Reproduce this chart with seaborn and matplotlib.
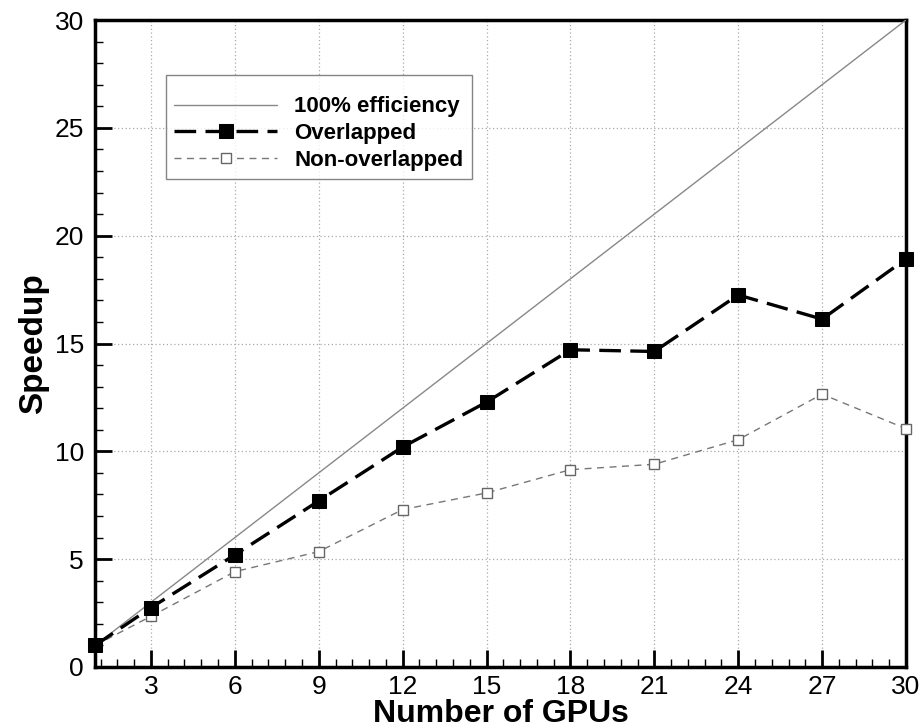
import matplotlib
matplotlib.use("Agg")
import matplotlib.pyplot as plt
import seaborn as sns
import pandas as pd
import numpy as np
from matplotlib.ticker import FixedLocator

gpus = [1, 3, 6, 9, 12, 15, 18, 21, 24, 27, 30]
ideal = [1, 3, 6, 9, 12, 15, 18, 21, 24, 27, 30]
overlapped = [1.0, 2.75, 5.2, 7.7, 10.2, 12.28, 14.71, 14.63, 17.25, 16.13, 18.92]
non_overlapped = [1.0, 2.35, 4.42, 5.35, 7.3, 8.07, 9.15, 9.4, 10.54, 12.65, 11.05]
x_ticks = [3, 6, 9, 12, 15, 18, 21, 24, 27, 30]
y_ticks = [0, 5, 10, 15, 20, 25, 30]

sns.set_style("white")
plt.rcParams['font.family'] = ['Liberation Sans', 'DejaVu Sans']
plt.rcParams['text.color'] = 'black'
plt.rcParams['axes.labelcolor'] = 'black'
plt.rcParams['xtick.color'] = 'black'
plt.rcParams['ytick.color'] = 'black'

fig = plt.figure(figsize=(9.21, 7.28), dpi=100)
ax = fig.add_axes([95/921, (728-667)/728, (906-95)/921, (667-20)/728])

df = pd.DataFrame({"gpus": gpus, "ideal": ideal, "over": overlapped, "non": non_overlapped})

sns.lineplot(data=df, x="gpus", y="ideal", ax=ax, color="#888888", linewidth=1.0,
             label="100% efficiency", zorder=3)
sns.lineplot(data=df, x="gpus", y="over", ax=ax, color="black", linewidth=2.4,
             marker="s", markersize=9.5, markerfacecolor="black", markeredgecolor="black",
             dashes=False, label="Overlapped", zorder=5, clip_on=False)
sns.lineplot(data=df, x="gpus", y="non", ax=ax, color="#777777", linewidth=1.0,
             marker="s", markersize=7.5, markerfacecolor="white", markeredgecolor="#666666",
             markeredgewidth=1.0, label="Non-overlapped", zorder=4, clip_on=False)

lines = ax.get_lines()
lines[1].set_dashes([6.5, 2.8])
lines[2].set_dashes([5, 4])

ax.set_xlim(1, 30)
ax.set_ylim(0, 30)
ax.xaxis.set_major_locator(FixedLocator(x_ticks))
ax.yaxis.set_major_locator(FixedLocator(y_ticks))
minor_x = [round(1.2 + 0.6 * i, 2) for i in range(49) if round(1.2 + 0.6 * i, 2) not in x_ticks]
ax.xaxis.set_minor_locator(FixedLocator(minor_x))
ax.yaxis.set_minor_locator(FixedLocator([v for v in range(1, 30) if v % 5 != 0]))

ax.tick_params(axis="both", which="major", direction="in", length=12, width=2,
               labelsize=19, top=False, right=False, bottom=True, left=True)
ax.tick_params(axis="x", which="major", pad=6)
ax.tick_params(axis="y", which="major", pad=8)
ax.tick_params(axis="both", which="minor", direction="in", length=6, width=1,
               top=False, right=False, bottom=True, left=True)

ax.grid(True, which="major", linestyle=(0, (1, 2)), color="#aaaaaa", linewidth=0.9)
ax.set_axisbelow(True)
for s in ax.spines.values():
    s.set_linewidth(2.5)
    s.set_color("black")
    s.set_visible(True)

ax.set_xlabel("Number of GPUs", fontsize=23, fontweight="bold", labelpad=0)
ax.set_ylabel("Speedup", fontsize=24, fontweight="bold", labelpad=4)

leg = ax.legend(loc="upper left", bbox_to_anchor=(0.087, 0.915),
                prop={"weight": "bold", "size": 16}, frameon=True, fancybox=False,
                edgecolor="#666666", handlelength=4.6, borderpad=0.4, labelspacing=0.25,
                handletextpad=0.8, borderaxespad=0, title=" ", title_fontsize=5)
leg.get_frame().set_linewidth(1.0)

fig.savefig("out.png", dpi=100, facecolor="white")
